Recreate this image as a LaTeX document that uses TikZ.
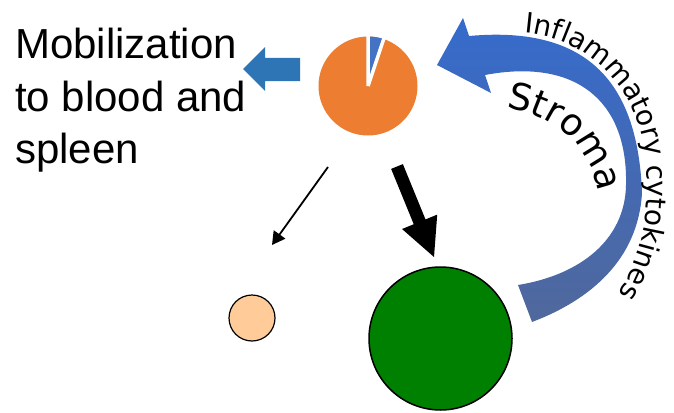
\documentclass[tikz,border=0pt]{standalone}
\usepackage{fontspec}
\setmainfont{Liberation Sans}
\newfontfamily\dvs{DejaVu Sans}
\usetikzlibrary{arrows.meta,decorations.text,calc}
\definecolor{pieorange}{RGB}{237,125,49}
\definecolor{pieblue}{RGB}{68,114,196}
\definecolor{arrowblue}{RGB}{46,117,182}
\definecolor{bandtop}{RGB}{54,107,204}
\definecolor{bandbot}{RGB}{80,104,156}
\definecolor{peach}{RGB}{255,204,153}
\definecolor{leafgreen}{RGB}{0,128,0}
\begin{document}
\begin{tikzpicture}[x=1pt,y=-1pt,
  bigtext/.style={font=\fontsize{42}{50}\selectfont, anchor=base west, inner sep=0pt},
  cell/.style={circle, draw=black, inner sep=0pt},
  thinarrow/.style={line width=1.8, -{Triangle[length=13pt,width=14pt]}}
]
\useasboundingbox (0,0) rectangle (674,412);

% left text
\node[bigtext] (l1) at (15,59) {Mobilization};
\node[bigtext] (l2) at (15,111) {to blood and};
\node[bigtext] (l3) at (15,163) {spleen};

% pie chart
\coordinate (pie) at (368,86);
\fill[pieorange] (pie) circle[radius=49.5];
\fill[pieblue] (pie) -- ++(-90:49.5) arc[start angle=-90,end angle=-71.5,radius=49.5] -- cycle;
\draw[white,line width=3.5] (pie) -- ++(-90:52) (pie) -- ++(-71.5:52);

% blue mobilization arrow
\fill[arrowblue] (300,58) -- (265,58) -- (265,47) -- (243,69) -- (265,91) -- (265,81) -- (300,81) -- cycle;

% curved band arrow
\shade[top color=bandtop, bottom color=bandbot]
 (485,75) -- (491,93) -- (437,65) -- (463,18) -- (469,36)
 .. controls (590,25) and (638,85) .. (642,193)
 .. controls (638,260) and (590,300) .. (532,322)
 -- (518,285)
 .. controls (580,275) and (625,240) .. (626,185)
 .. controls (628,100) and (575,58) .. (485,75) -- cycle;

% texts along the band
\path[decorate, decoration={text along path, text align=left,
  text={|\dvs\fontsize{28}{28}\selectfont|Inflammatory cytokines}}]
 (524,33) .. controls (590,38) and (640,90) .. (646,160)
 .. controls (651,225) and (638,275) .. (600,318);
\path[decorate, decoration={text along path, text align=left,
  text={|\dvs\fontsize{37}{37}\selectfont|Stroma}}]
 (506,108) .. controls (560,116) and (597,150) .. (601,215);

% cells
\node[cell, fill=peach, minimum size=46pt, line width=1.2] (small) at (252,318) {};
\node[cell, fill=leafgreen, minimum size=143pt, line width=1.5] (big) at (440.5,338.5) {};

% thin arrow
\coordinate (thinS) at (328,167);
\coordinate (thinE) at (272,245);
\draw[thinarrow] (thinS) -- (thinE);

% thick arrow
\coordinate (tS) at (397,166.5);
\coordinate (tE) at (434,257);
\coordinate (hb) at ($(tE)!38pt!(tS)$);
\fill[black] ($(tS)!6.35pt!90:(tE)$) -- ($(hb)!6.35pt!-90:(tS)$) -- ($(hb)!19pt!-90:(tS)$)
  -- (tE) -- ($(hb)!19pt!90:(tS)$) -- ($(hb)!6.35pt!90:(tS)$) -- ($(tS)!6.35pt!-90:(tE)$) -- cycle;
\end{tikzpicture}
\end{document}
